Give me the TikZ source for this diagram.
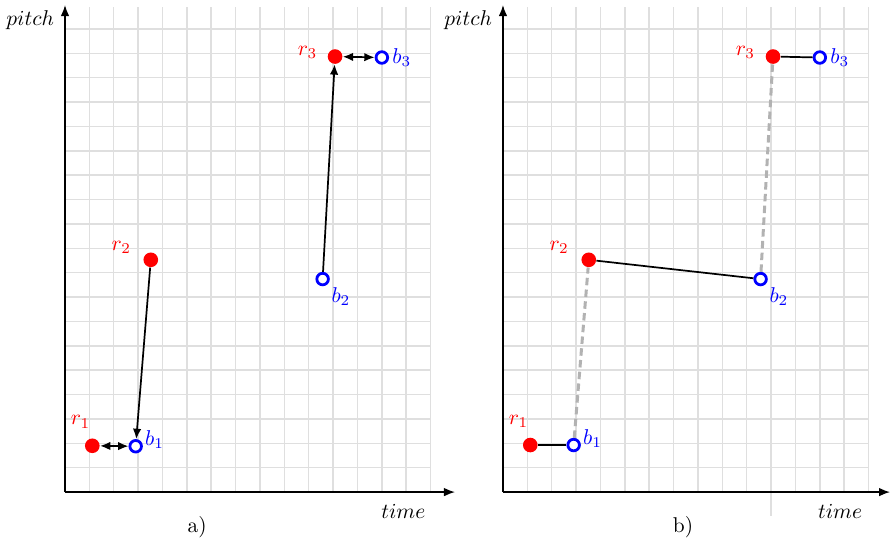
\documentclass[tikz,border=0pt]{standalone}
\usetikzlibrary{arrows.meta}

\begin{document}
\begin{tikzpicture}[x=0.4cm, y=0.4cm,
  rejilla/.style={gray!25, line width=0.7pt, step=0.4cm},
  eje/.style={-{Latex[length=1.8mm, width=1.4mm]}, semithick},
  nota/.style={circle, fill=red, inner sep=0pt, minimum size=0.24cm},
  golpe/.style={circle, draw=blue, line width=1.3pt, fill=white, inner sep=0pt, minimum size=0.19cm},
  lr/.style={red, anchor=center},
  lb/.style={blue, anchor=center},
  flecha/.style={-{Latex[length=1.7mm, width=1.4mm]}, thick},
  doble/.style={{Latex[length=1.7mm, width=1.4mm]}-{Latex[length=1.7mm, width=1.4mm]}, thick},
  enlace/.style={thick},
  tenue/.style={gray!60, line width=1.4pt, dash pattern=on 3.5pt off 2pt}]
\useasboundingbox (-2.667,-2.216) rectangle (33.85,20.19);

% a) retardos como flechas
\draw[rejilla] (0,0) grid (15,19.9);
\draw[eje] (0,0) -- (16,0);
\draw[eje] (0,0) -- (0,19.98);
\node (pa) at (-1.43,19.37) {$pitch$};
\node (ta) at (13.88,-0.8) {$time$};
\node (ca) at (5.42,-1.44) {a)};
\node[nota, label={[lr, label distance=0.31cm]116:$r_1$}] (ar1) at (1.12,1.9) {};
\node[golpe, label={[lb, label distance=0.21cm]19:$b_1$}] (ab1) at (2.9,1.88) {};
\node[nota, label={[lr, label distance=0.40cm]157:$r_2$}] (ar2) at (3.52,9.53) {};
\node[golpe, label={[lb, label distance=0.30cm]-44:$b_2$}] (ab2) at (10.57,8.74) {};
\node[nota, label={[lr, label distance=0.33cm]172:$r_3$}] (ar3) at (11.08,17.87) {};
\node[golpe, label={[lb, label distance=0.21cm]0:$b_3$}] (ab3) at (13,17.83) {};
\draw[doble] (ar1) -- (ab1);
\draw[flecha] (ar2) -- (ab1);
\draw[flecha] (ab2) -- (ar3);
\draw[doble] (ar3) -- (ab3);

% b) emparejamiento
\begin{scope}[shift={(17.97,0)}]
\draw[rejilla] (0,0) grid (15,19.9);
\draw[rejilla] (11,0) -- (11,-0.98);
\draw[eje] (0,0) -- (15.88,0);
\draw[eje] (0,0) -- (0,19.98);
\node (pb) at (-1.43,19.37) {$pitch$};
\node (tb) at (13.83,-0.8) {$time$};
\node (cb) at (7.39,-1.44) {b)};
\node[nota, label={[lr, label distance=0.31cm]116:$r_1$}] (br1) at (1.12,1.93) {};
\node[golpe, label={[lb, label distance=0.21cm]19:$b_1$}] (bb1) at (2.9,1.93) {};
\node[nota, label={[lr, label distance=0.40cm]157:$r_2$}] (br2) at (3.52,9.53) {};
\node[golpe, label={[lb, label distance=0.30cm]-44:$b_2$}] (bb2) at (10.57,8.74) {};
\node[nota, label={[lr, label distance=0.33cm]172:$r_3$}] (br3) at (11.08,17.87) {};
\node[golpe, label={[lb, label distance=0.21cm]0:$b_3$}] (bb3) at (13,17.83) {};
\draw[enlace] (br1) -- (bb1);
\draw[enlace] (br2) -- (bb2);
\draw[enlace] (br3) -- (bb3);
\draw[tenue] (bb1) -- (br2);
\draw[tenue] (bb2) -- (br3);
\end{scope}
\end{tikzpicture}
\end{document}
